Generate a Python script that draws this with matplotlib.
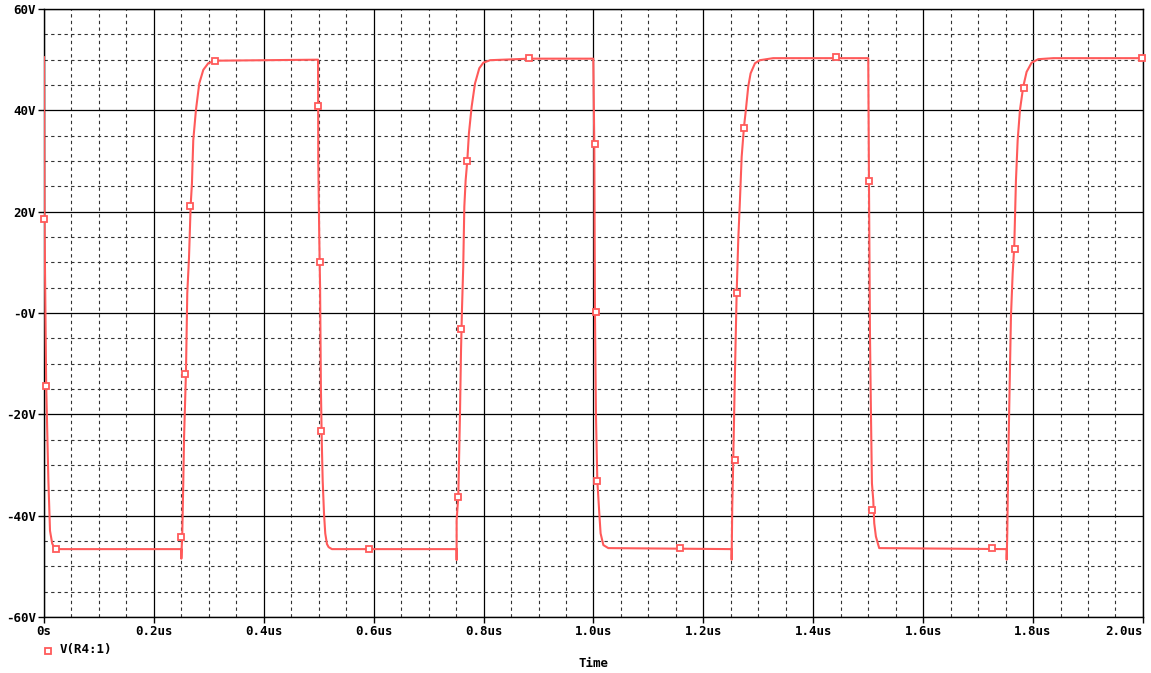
import numpy as np
import matplotlib.pyplot as plt
from matplotlib.ticker import MultipleLocator

# trace V(R4:1) (time in us, volts)
t_us = [0.0, 0.001, 0.004, 0.008, 0.011, 0.015, 0.020,
        0.2500, 0.2500, 0.2505, 0.2515, 0.2535, 0.2550, 0.2584, 0.2608, 0.2639, 0.2670,
        0.2693, 0.2717, 0.2766, 0.2826, 0.2900, 0.2990, 0.3110,
        0.4988, 0.4992, 0.5010, 0.5025, 0.5040, 0.5055, 0.5072, 0.5096, 0.5119, 0.5150,
        0.5180, 0.5240,
        0.7510, 0.7510, 0.7510, 0.7540, 0.7570, 0.7590, 0.7607, 0.7630, 0.7650, 0.7674,
        0.7703, 0.7734, 0.7783, 0.7844, 0.7922, 0.7995, 0.8120, 0.8830,
        0.9997, 1.0015, 1.0027, 1.0045, 1.0070, 1.0106, 1.0130, 1.0180, 1.0270,
        1.2515, 1.2515, 1.2526, 1.2544, 1.2575, 1.2606, 1.2635, 1.2666, 1.2697, 1.2740,
        1.2770, 1.2817, 1.2860, 1.2940, 1.3030, 1.3270,
        1.5001, 1.5014, 1.5032, 1.5050, 1.5068, 1.5092, 1.5110, 1.5140, 1.5200,
        1.7520, 1.7520, 1.7531, 1.7550, 1.7567, 1.7598, 1.7629, 1.7658, 1.7689, 1.7720,
        1.7762, 1.7822, 1.7883, 1.7974, 1.8095, 1.8368, 2.0]
v = [50.5, 18.0, -14.0, -33.0, -43.0, -45.5, -46.6,
     -46.6, -48.5, -46.6, -44.5, -33.6, -24.4, -11.8, 3.9, 10.8, 21.3,
     25.6, 34.1, 40.1, 45.3, 48.0, 49.3, 49.8,
     50.0, 30.0, 15.0, 5.0, -15.0, -25.0, -33.0, -39.5, -43.5, -45.6,
     -46.2, -46.6,
     -46.6, -48.7, -40.9, -36.3, -20.5, -7.3, 0.6, 9.1, 21.0, 26.2,
     29.9, 35.5, 40.7, 45.3, 48.3, 49.4, 49.9, 50.2,
     50.2, 33.5, 0.6, -19.8, -33.0, -39.5, -43.5, -45.8, -46.4,
     -46.6, -48.7, -38.2, -29.0, -11.9, 3.9, 14.4, 22.3, 30.8, 36.8,
     39.7, 44.7, 47.3, 49.3, 49.9, 50.3,
     50.3, 25.9, -4.0, -19.8, -33.6, -36.9, -41.5, -44.1, -46.4,
     -46.6, -48.7, -43.5, -28.4, -18.5, -0.7, 7.8, 13.1, 26.2, 34.1,
     40.1, 44.7, 47.6, 49.4, 50.1, 50.3, 50.3]

# square markers drawn on the trace
mark_t = [0.0, 0.004, 0.022, 0.249, 0.257, 0.266, 0.311, 0.4986, 0.502, 0.504, 0.591,
          0.753, 0.759, 0.770, 0.883, 1.003, 1.005, 1.006, 1.157, 1.257, 1.261, 1.274,
          1.441, 1.501, 1.507, 1.725, 1.767, 1.783, 1.998]
mark_v = [18.5, -14.4, -46.6, -44.2, -12.0, 21.1, 49.7, 40.9, 10.1, -23.3, -46.6,
          -36.3, -3.2, 30.0, 50.3, 33.4, 0.2, -33.2, -46.4, -29.0, 3.9, 36.5,
          50.5, 26.0, -38.9, -46.4, 12.6, 44.4, 50.3]

x_ticks = [0.0, 0.2, 0.4, 0.6, 0.8, 1.0, 1.2, 1.4, 1.6, 1.8, 2.0]
x_labels = ["0s", "0.2us", "0.4us", "0.6us", "0.8us", "1.0us", "1.2us",
            "1.4us", "1.6us", "1.8us", "2.0us"]
y_ticks = [-60, -40, -20, 0, 20, 40, 60]
y_labels = ["-60V", "-40V", "-20V", "-0V", "20V", "40V", "60V"]

red = "#ff5a5a"
mono = {"family": "DejaVu Sans Mono", "weight": "bold", "size": 9}

fig = plt.figure(figsize=(11.51, 6.73), dpi=100)
ax = fig.add_axes([0.0382, 0.0832, 0.9548, 0.9034])

ax.xaxis.set_minor_locator(MultipleLocator(0.05))
ax.yaxis.set_minor_locator(MultipleLocator(5))
ax.grid(which="major", color="black", linewidth=0.9, linestyle="-")
ax.grid(which="minor", color="#333333", linewidth=0.8, linestyle=(0, (3, 3)))
ax.set_axisbelow(True)

ax.plot(t_us, v, color=red, linewidth=1.5, zorder=3)
ax.plot(mark_t, mark_v, linestyle="none", marker="s", markersize=5,
        markerfacecolor="white", markeredgecolor=red, markeredgewidth=1.3,
        zorder=4, clip_on=False)

ax.set_xlim(0, 2.0)
ax.set_ylim(-60, 60)
ax.set_xticks(x_ticks)
ax.set_xticklabels(x_labels, fontdict=mono)
ax.set_yticks(y_ticks)
ax.set_yticklabels(y_labels, fontdict=mono)
ax.tick_params(which="major", direction="out", length=4, width=1, pad=2, colors="black")
ax.tick_params(which="minor", length=0)
xl = ax.get_xticklabels()
xl[-1].set_horizontalalignment("right")
for s in ax.spines.values():
    s.set_color("black")
    s.set_linewidth(1)

fig.text(0.5156, 0.005, "Time", ha="center", va="bottom", fontdict=mono)
fig.text(0.052, 0.026, "V(R4:1)", ha="left", va="bottom", fontdict=mono)
fig.lines.append(plt.Line2D([0.0415], [0.0325], transform=fig.transFigure, marker="s",
                            markersize=5, markerfacecolor="white", markeredgecolor=red,
                            markeredgewidth=1.3, linestyle="none"))

fig.savefig("out.png", dpi=100)
